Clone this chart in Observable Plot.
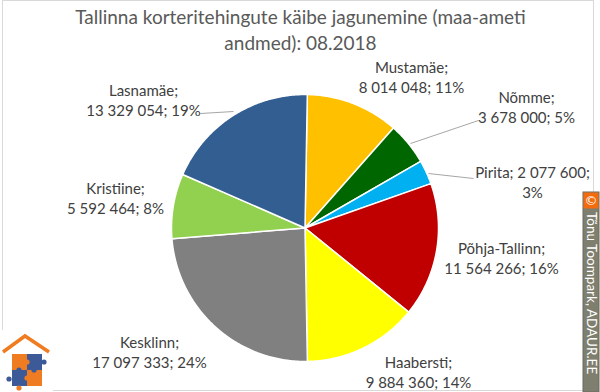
<!DOCTYPE html>
<html><head><meta charset="utf-8">
<script src="https://cdn.jsdelivr.net/npm/d3@7"></script>
<script src="https://cdn.jsdelivr.net/npm/@observablehq/plot@0.6"></script>
<style>
body{margin:0;background:#fff}
#chart{position:relative;width:600px;height:392px;overflow:hidden}
</style>
</head><body><div id="chart"></div>
<script>
// ---- data (clockwise from 12 o'clock) ----
const districts = ["Mustamäe","Nõmme","Pirita","Põhja-Tallinn","Haabersti","Kesklinn","Kristiine","Lasnamäe"];
const turnover  = [8014048, 3678000, 2077600, 11564266, 9884360, 17097333, 5592464, 13329054];
const colors    = ["#FFC000","#006600","#00B0F0","#C00000","#FFFF00","#808080","#92D050","#335E91"];
const titleLines = ["Tallinna korteritehingute käibe jagunemine (maa-ameti", "andmed): 08.2018"];
const credit = "Tõnu Toompark, ADAUR.EE";

// ---- layout ----
const W = 600, H = 392;
const cx = 304.5, cy = 227.5, R = 133.5, startDeg = 1;
// label anchor: [x, baseline of last line], and where to break the line
const labelAt = [[411,92],[526,122],[532,197],[501,273],[418,387],[149,367],[115,213],[143,115]];
const breakAfter = ["name","name","value","name","name","name","name","name"];
const leaders = [
  {d:"Nõmme", x1:410, y1:143, x2:478, y2:120},
  {d:"Pirita", x1:428, y1:173, x2:473, y2:178},
  {d:"Lasnamäe", x1:200, y1:113, x2:233, y2:111}
];

const fmt = d3.formatLocale({decimal:",", thousands:"\u00a0", grouping:[3], currency:["",""]}).format(",");
const total = d3.sum(turnover);
const rows = districts.map((d,i)=>({district:d, value:turnover[i], color:colors[i], pct:Math.round(turnover[i]/total*100)}));

// slices via d3.pie
const arcs = d3.pie().sort(null).value(d=>d.value)
  .startAngle(startDeg*Math.PI/180).endAngle(startDeg*Math.PI/180 + 2*Math.PI)(rows);
const slicePts = [];
for (const a of arcs) {
  slicePts.push({district:a.data.district, x:cx, y:cy});
  const n = Math.max(2, Math.ceil((a.endAngle-a.startAngle)/(Math.PI/360)));
  for (let k=0;k<=n;k++){
    const t = a.startAngle + (a.endAngle-a.startAngle)*k/n;
    slicePts.push({district:a.data.district, x:cx + R*Math.sin(t), y:cy - R*Math.cos(t)});
  }
}

const labels = rows.map((r,i)=>{
  const v = fmt(r.value);
  const text = breakAfter[i]==="value"
    ? `${r.district}; ${v};\n${r.pct}%`
    : `${r.district};\n${v}; ${r.pct}%`;
  return {text, x:labelAt[i][0], y:labelAt[i][1]};
});
const titleRows = [{text:titleLines.join("\n"), x:300, y:49}];

const plot = Plot.plot({
  width: W, height: H,
  margin: 0,
  x: {domain:[0,W], range:[0,W], axis:null},
  y: {domain:[0,H], range:[0,H], axis:null},
  color: {domain: districts, range: colors},
  style: {fontFamily:"Lato, 'Open Sans', sans-serif", background:"#fff"},
  marks: [
    Plot.line(slicePts, {x:"x", y:"y", z:"district", fill:"district", stroke:"#fff", strokeWidth:1.5, curve:"linear-closed"}),
    Plot.link(leaders, {x1:"x1", y1:"y1", x2:"x2", y2:"y2", stroke:"#A6A6A6", strokeWidth:1}),
    Plot.text(labels, {x:"x", y:"y", text:"text", textAnchor:"middle", lineAnchor:"bottom", lineHeight:1.3, fontSize:15, fill:"#404040"}),
    Plot.text(titleRows, {x:"x", y:"y", text:"text", textAnchor:"middle", lineAnchor:"bottom", lineHeight:1.32, fontSize:19, fill:"#595959"})
  ]
});
document.getElementById("chart").appendChild(plot);

// ---- decorations: border, logo, credit ----
const svg = d3.select(plot);
svg.insert("rect", ":first-child").attr("x",2.5).attr("y",0.5).attr("width",591).attr("height",390)
  .attr("fill","none").attr("stroke","#D9D9D9");
const logo = svg.append("g");
logo.append("rect").attr("x",0).attr("y",330).attr("width",53).attr("height",62).attr("fill","#fff");
logo.append("polyline").attr("points","3,352 25,336 49,352").attr("fill","none").attr("stroke","#F07C22").attr("stroke-width",3.5).attr("stroke-linejoin","miter");
[[12,354,"#F07C22"],[27,354,"#3D5A98"],[12,370,"#3D5A98"],[27,370,"#F07C22"]].forEach(([x,y,c])=>{
  logo.append("rect").attr("x",x).attr("y",y).attr("width",15).attr("height",16).attr("fill",c);
});
[[27,362,"#F07C22"],[19,370,"#3D5A98"],[34,370,"#3D5A98"],[27,378,"#F07C22"],[44,362,"#3D5A98"],[9,379,"#3D5A98"],[19,388,"#F07C22"]].forEach(([x,y,c])=>{
  logo.append("circle").attr("cx",x).attr("cy",y).attr("r",2.6).attr("fill",c);
});
const wm = svg.append("g").attr("text-anchor","start");
wm.append("rect").attr("x",583).attr("y",192).attr("width",16).attr("height",200).attr("fill","#7F7F70").attr("stroke","#6b6b5e");
wm.append("rect").attr("x",583.5).attr("y",192.5).attr("width",15).attr("height",16).attr("fill","#F26B0F");
wm.append("text").attr("x",591).attr("y",205).attr("text-anchor","middle").attr("fill","#fff")
  .attr("font-size",13).attr("font-family","DejaVu Sans, sans-serif").text("©");
wm.append("text").attr("transform","translate(586.5,212) rotate(90)").attr("text-anchor","start").attr("fill","#fff")
  .attr("font-size",13.5).attr("font-family","Lato, sans-serif").text(credit);
</script>
</body></html>
